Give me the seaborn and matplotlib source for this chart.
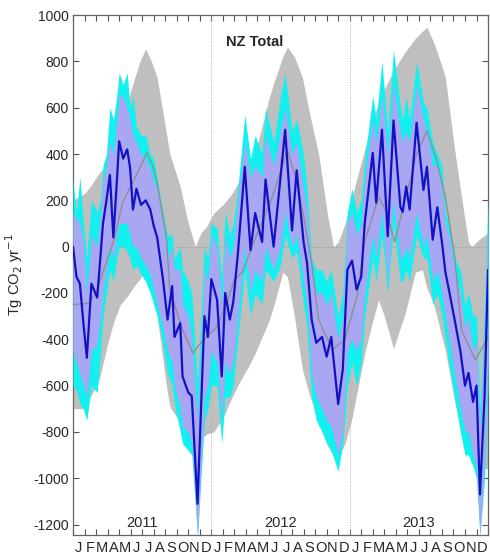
import numpy as np
import pandas as pd
import matplotlib
matplotlib.use("Agg")
import matplotlib.pyplot as plt
import seaborn as sns

# ---------------- data (months since Jan 2011) ----------------
post_m = [0.0, 0.3, 0.6, 0.9, 1.2, 1.6, 2.1, 2.4, 2.6, 2.9, 3.2, 3.5, 3.8, 4.0, 4.35, 4.7, 4.95,
          5.2, 5.5, 5.9, 6.3, 6.7, 7.0, 7.3, 7.8, 8.2, 8.6, 8.8, 9.3, 9.5, 10.0, 10.3, 10.8,
          11.4, 11.7, 12.0, 12.5, 12.9, 13.2, 13.6, 13.9, 14.3, 14.9, 15.4, 15.8, 16.4, 16.7,
          17.4, 18.0, 18.4, 19.0, 19.4, 20.0, 20.3, 20.7, 21.1, 21.6, 22.0, 22.4, 23.0, 23.4,
          23.8, 24.2, 24.6, 25.0, 25.3, 26.0, 26.3, 26.8, 27.3, 27.8, 28.4, 28.6, 28.9, 29.2,
          29.8, 30.4, 30.7, 31.2, 31.6, 32.0, 32.3, 32.6, 33.1, 33.6, 34.0, 34.3, 34.7, 35.0,
          35.3, 35.7, 36.0]
post_mean = [0, -130, -160, -330, -480, -160, -220, -30, 100, 200, 310, 40, 280, 455, 380, 420, 340,
             160, 250, 180, 200, 160, 90, 40, -140, -315, -170, -390, -330, -560, -630, -645, -1110,
             -300, -390, -140, -230, -560, -200, -315, -240, -30, 345, -15, 145, 20, 290,
             0, 300, 505, 70, 330, 20, -70, -315, -415, -390, -475, -390, -680, -530,
             -100, -60, -185, -130, 100, 405, 190, 505, 45, 545, 170, 150, 260, 160,
             535, 245, 345, 30, 170, 20, -110, -185, -315, -450, -600, -545, -670, -600,
             -1070, -645, -100]
post_lo = [-450, -500, -550, -600, -650, -450, -420, -300, -200, -100, 0, -50, 50, 100, 100, 100, 50,
           0, 0, -50, -80, -120, -180, -250, -350, -450, -500, -600, -700, -780, -800, -850, -1250,
           -650, -600, -450, -500, -750, -500, -550, -500, -300, 0, -200, -100, -150, 0,
           -100, 0, 150, 0, 50, -150, -250, -550, -650, -700, -750, -780, -900, -800,
           -450, -400, -450, -400, -200, 50, -50, 150, -150, 200, -50, -50, 0, -50,
           150, 0, 50, -150, -100, -200, -300, -400, -550, -700, -800, -800, -900, -950,
           -1250, -900, -500]
post_hi = [150, 120, 100, 20, -200, 50, 0, 150, 280, 350, 450, 400, 550, 650, 650, 600, 550,
           480, 450, 400, 380, 330, 280, 250, 100, -50, 0, -100, -100, -250, -300, -400, -750,
           -100, -150, 50, 0, -250, 50, -50, 0, 200, 450, 300, 350, 300, 480,
           350, 500, 600, 400, 450, 250, 150, -100, -200, -200, -250, -200, -400, -300,
           100, 150, 50, 100, 300, 550, 450, 650, 400, 700, 500, 450, 500, 450,
           700, 550, 500, 350, 350, 250, 100, 50, -100, -200, -350, -300, -450, -400,
           -800, -350, 100]
ens_lo = [-600, -620, -680, -700, -750, -600, -630, -450, -300, -200, -100, -150, -50, 0, 0, -20, -50,
          -100, -80, -120, -150, -200, -250, -300, -420, -550, -600, -680, -800, -850, -880, -900, -1250,
          -750, -700, -600, -600, -850, -650, -650, -600, -400, -100, -300, -200, -250, -100,
          -150, -80, 50, -50, -20, -250, -350, -650, -750, -800, -850, -880, -970, -850,
          -600, -500, -600, -500, -300, -50, -150, 50, -200, 100, -150, -150, -100, -150,
          50, -50, -50, -250, -200, -300, -400, -500, -650, -800, -900, -900, -950, -1000,
          -1250, -1000, -600]
ens_hi = [280, 150, 300, 100, -50, 200, 150, 200, 350, 400, 600, 550, 650, 750, 700, 750, 600,
          650, 520, 480, 480, 400, 380, 300, 150, 50, 50, -50, 0, -100, -150, -200, -600,
          0, -50, 100, 80, -150, 150, 50, 100, 250, 570, 380, 480, 400, 600,
          450, 650, 750, 500, 550, 400, 250, -50, -100, -100, -150, -100, -300, -200,
          150, 250, 150, 200, 380, 650, 550, 800, 500, 850, 600, 550, 650, 550,
          800, 620, 600, 450, 400, 350, 150, 100, -50, -100, -250, -200, -300, -300,
          -700, -250, 200]

prior_m = [0, 1.0, 1.5, 2.3, 3.0, 3.5, 4.1, 4.7, 5.3, 5.8, 6.3, 6.8, 7.3, 8.1, 8.4, 9.3, 9.9,
           10.6, 11.1, 11.6, 12.2, 13.0, 13.8, 14.5, 15.2, 15.8, 16.4, 17.0, 17.5, 18.2, 18.6,
           19.2, 19.9, 20.5, 21.3, 22.1, 22.6, 23.0, 23.6, 24.2, 25.3, 26.0, 26.5, 27.0, 27.8,
           28.8, 29.7, 30.3, 30.7, 31.3, 32.0, 32.3, 33.1, 33.8, 34.3, 34.6, 35.2, 36.0]
prior_lo = [-700, -700, -650, -570, -420, -330, -250, -215, -170, -140, -100, -150, -300, -600, -690,
            -760, -800, -820, -830, -810, -800, -740, -650, -580, -520, -460, -390, -320, -240, -110,
            -130, -300, -530, -640, -750, -860, -905, -910, -850, -740, -460, -320, -230, -300, -440,
            -290, -110, -100, -180, -250, -390, -450, -670, -820, -880, -930, -950, -960]
prior_hi = [200, 230, 260, 320, 360, 420, 490, 620, 720, 800, 855, 800, 730, 490, 400, 260, 120,
            0, 60, 88, 145, 180, 230, 290, 360, 405, 520, 640, 720, 820, 862, 820, 730, 580, 400,
            130, 0, 20, 100, 215, 420, 550, 620, 680, 760, 840, 900, 930, 948, 880, 780, 730, 420,
            180, 20, 0, 30, 60]

prior_mean_m = [0, 1.3, 2.0, 2.6, 3.5, 4.3, 5.2, 5.8, 6.4, 6.9, 7.3, 8.1, 8.4, 9.5, 10.4, 11.0,
                12.5, 13.3, 14.0, 14.7, 16.0, 17.3, 18.6, 19.3, 19.9, 20.7, 21.3, 22.5, 23.6, 24.7,
                25.3, 26.5, 27.2, 27.9, 28.8, 29.8, 30.7, 31.5, 32.3, 33.1, 33.7, 34.9, 36.0]
prior_mean = [-250, -245, -200, -110, 20, 190, 280, 340, 405, 350, 275, 40, -185, -360, -460, -420,
              -345, -250, -140, -110, 60, 215, 420, 300, 160, -70, -315, -445, -400, -200,
              20, 215, 150, 20, 200, 400, 500, 380, 215, -40, -360, -490, -390]

month_letters = list("JFMAMJJASOND") * 3
years = ["2011", "2012", "2013"]
y_ticks = [-1200, -1000, -800, -600, -400, -200, 0, 200, 400, 600, 800, 1000]

# ---------------- plotting ----------------
sns.set_style("ticks")
plt.rcParams['font.family'] = ['Liberation Sans', 'DejaVu Sans']

fig = plt.figure(figsize=(4.9, 5.59), dpi=100)
ax = fig.add_axes([0.149, 0.043, 0.847, 0.930])

ax.fill_between(prior_m, prior_lo, prior_hi, color="#bfbfbf", lw=0, zorder=1)
ax.fill_between(post_m, ens_lo, ens_hi, color="#12f0f0", lw=0, zorder=3)
ax.fill_between(post_m, post_lo, post_hi, color="#a9a6f2", lw=0, zorder=4)

sns.lineplot(x=prior_mean_m, y=prior_mean, ax=ax, color="#8f8f8f", lw=1.0, zorder=5,
             estimator=None, sort=False)
sns.lineplot(x=post_m, y=post_mean, ax=ax, color="#1212c4", lw=1.6, zorder=6,
             estimator=None, sort=False)

ax.axhline(0, color="#9a9a9a", lw=0.7, ls=(0, (1, 1.5)), zorder=2)
for b in (12, 24):
    ax.axvline(b, color="#b0b0b0", lw=0.7, ls=(0, (1, 1.5)), zorder=2)

ax.set_xlim(0, 36)
ax.set_ylim(-1245, 1000)

ax.set_yticks(y_ticks)
ax.set_yticklabels([str(v) for v in y_ticks], fontsize=10)
ax.set_xticks(range(37))
ax.set_xticklabels([""] * 37)
ax.set_xticks(np.arange(0.5, 36, 1), minor=True)
ax.set_xticklabels(month_letters, minor=True, fontsize=10.5)
ax.tick_params(axis="x", which="major", direction="in", length=4, top=True, bottom=True,
               color="#555555", width=0.8)
ax.tick_params(axis="x", which="minor", length=0, pad=4)
ax.tick_params(axis="y", direction="in", length=4, left=True, right=True, color="#555555",
               width=0.8, pad=3)

for s in ax.spines.values():
    s.set_color("#666666")
    s.set_linewidth(0.9)
    s.set_visible(True)

ax.set_xlabel("")
ax.set_ylabel("Tg CO$_2$ yr$^{-1}$", fontsize=10.5, labelpad=6)

ax.text(0.438, 0.948, "NZ Total", transform=ax.transAxes, ha="center", va="center",
        fontsize=10.5, fontweight="bold", zorder=8)
for i, yr in enumerate(years):
    ax.text(6 + 12 * i, -1195, yr, ha="center", va="center", fontsize=10.5, zorder=8)

fig.savefig("out.png", dpi=100)
